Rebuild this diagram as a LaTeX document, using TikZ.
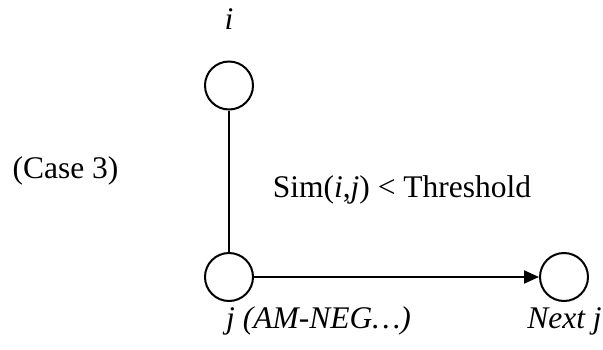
\documentclass[tikz,border=0pt]{standalone}
\usepackage{fontspec}
\setmainfont{Liberation Serif}
\usetikzlibrary{arrows.meta}
\begin{document}
\begin{tikzpicture}[x=1pt,y=-1pt,
  vert/.style={circle,draw,line width=2pt,minimum size=48pt,inner sep=0pt},
  lbl/.style={anchor=base,inner sep=0pt,font=\fontsize{31.5}{38}\selectfont},
  conn/.style={line width=2pt}]
\useasboundingbox (0,0) rectangle (603,349);
\node[vert] (ci) at (229,85.5) {};
\node[vert] (cj) at (229,277) {};
\node[vert] (cn) at (564,277) {};
\node[lbl] (li) at (229,29) {\textit{i}};
\node[lbl] (lcase) at (65.5,178) {(Case 3)};
\node[lbl] (lsim) at (402,197) {Sim(\textit{i},\textit{j}) < Threshold};
\node[lbl] (lj) at (318.5,328) {\textit{j (AM-NEG…)}};
\node[lbl] (ln) at (564.5,328) {\textit{Next j}};
\draw[conn] (ci) -- (cj);
\draw[conn,-{Triangle[length=15pt,width=13pt]}] (cj) -- (cn);
\end{tikzpicture}
\end{document}
